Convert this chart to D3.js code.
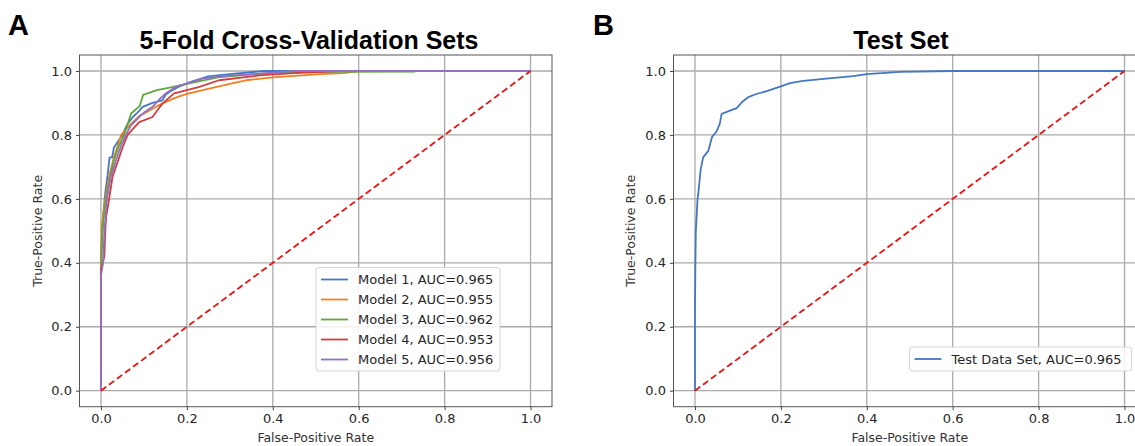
<!DOCTYPE html>
<html>
<head>
<meta charset="utf-8">
<script src="https://cdn.jsdelivr.net/npm/d3@7"></script>
<style>
  body { margin: 0; background: #fff; }
  svg { display: block; }
  .tick text { font-family: "DejaVu Sans", sans-serif; font-size: 13px; fill: #262626; }
  .tick line { stroke: #444; }
  .domain { display: none; }
</style>
</head>
<body>
<svg id="chart" width="1135" height="446"></svg>
<script>
const tickValues = [0, 0.2, 0.4, 0.6, 0.8, 1.0];

const cvModels = ["Model 1", "Model 2", "Model 3", "Model 4", "Model 5"];
const cvAuc = [0.965, 0.955, 0.962, 0.953, 0.956];
const cvColors = ["#4477c4", "#f07f1e", "#5fa83a", "#d43d3d", "#9370c8"];

const model1Roc = [[0,0],[0,0.40],[0.003,0.48],[0.006,0.56],[0.01,0.62],[0.016,0.68],[0.02,0.73],[0.026,0.73],[0.03,0.76],[0.04,0.78],[0.05,0.80],[0.06,0.83],[0.074,0.856],[0.085,0.87],[0.097,0.888],[0.12,0.90],[0.143,0.908],[0.15,0.925],[0.159,0.934],[0.18,0.95],[0.209,0.966],[0.25,0.983],[0.3,0.99],[0.38,1.0],[1,1]];
const model2Roc = [[0,0],[0,0.42],[0.002,0.52],[0.006,0.56],[0.01,0.6],[0.019,0.67],[0.03,0.73],[0.04,0.77],[0.047,0.80],[0.06,0.82],[0.074,0.84],[0.09,0.86],[0.105,0.87],[0.13,0.89],[0.159,0.908],[0.18,0.92],[0.205,0.93],[0.252,0.945],[0.3,0.96],[0.337,0.971],[0.4,0.98],[0.51,0.99],[0.565,0.993],[0.6,1.0],[1,1]];
const model3Roc = [[0,0],[0,0.37],[0.003,0.5],[0.008,0.56],[0.012,0.6],[0.02,0.66],[0.03,0.72],[0.04,0.76],[0.054,0.80],[0.07,0.867],[0.09,0.89],[0.098,0.925],[0.13,0.94],[0.16,0.948],[0.2,0.96],[0.275,0.981],[0.4,0.994],[0.5,0.997],[0.73,0.998],[0.73,1.0],[1,1]];
const model4Roc = [[0,0],[0,0.38],[0.008,0.42],[0.01,0.5],[0.012,0.544],[0.019,0.6],[0.027,0.67],[0.04,0.72],[0.05,0.76],[0.062,0.80],[0.075,0.82],[0.089,0.84],[0.12,0.856],[0.13,0.875],[0.143,0.898],[0.17,0.93],[0.2,0.94],[0.229,0.95],[0.275,0.971],[0.368,0.986],[0.45,0.993],[0.557,1.0],[1,1]];
const model5Roc = [[0,0],[0,0.36],[0.005,0.4],[0.008,0.5],[0.014,0.6],[0.023,0.67],[0.035,0.72],[0.045,0.76],[0.058,0.80],[0.07,0.83],[0.089,0.856],[0.1,0.87],[0.12,0.888],[0.135,0.91],[0.151,0.93],[0.174,0.95],[0.236,0.976],[0.306,0.986],[0.4,0.995],[0.45,1.0],[1,1]];

const testLabel = "Test Data Set";
const testAuc = 0.965;
const testColor = "#4477c4";
const testRoc = [[0,0],[0,0.25],[0.001,0.4],[0.002,0.5],[0.006,0.6],[0.008,0.62],[0.013,0.69],[0.019,0.73],[0.031,0.75],[0.035,0.77],[0.04,0.795],[0.05,0.81],[0.058,0.836],[0.062,0.866],[0.074,0.872],[0.097,0.884],[0.109,0.902],[0.124,0.918],[0.143,0.928],[0.167,0.937],[0.2,0.952],[0.221,0.962],[0.252,0.969],[0.306,0.976],[0.368,0.984],[0.4,0.99],[0.477,0.997],[0.6,1.0],[1,1]];

const chanceLine = [[0,0],[1,1]];

const svg = d3.select("#chart");

function drawPanel(opts) {
  const { x0, x1, y0, y1, title, titleX, letter, letterX, series, legend, yLabelX } = opts;

  const x = d3.scaleLinear().domain([-0.05, 1.05]).range([x0, x1]);
  const y = d3.scaleLinear().domain([-0.05, 1.05]).range([y1, y0]);
  const g = svg.append("g");

  const clipId = "clip-" + letter;
  g.append("clipPath").attr("id", clipId)
    .append("rect").attr("x", x0).attr("y", y0).attr("width", x1 - x0).attr("height", y1 - y0);

  // grid
  g.append("g").selectAll("line.vg").data(tickValues).join("line")
    .attr("x1", d => x(d)).attr("x2", d => x(d)).attr("y1", y0).attr("y2", y1)
    .attr("stroke", "#aaa").attr("stroke-width", 1.3);
  g.append("g").selectAll("line.hg").data(tickValues).join("line")
    .attr("x1", x0).attr("x2", x1).attr("y1", d => y(d)).attr("y2", d => y(d))
    .attr("stroke", "#aaa").attr("stroke-width", 1.3);

  const line = d3.line().x(d => x(d[0])).y(d => y(d[1]));
  const plot = g.append("g").attr("clip-path", `url(#${clipId})`);

  plot.selectAll("path.roc").data(series).join("path")
    .attr("class", "roc")
    .attr("d", d => line(d.values))
    .attr("fill", "none")
    .attr("stroke", d => d.color)
    .attr("stroke-width", 1.8)
    .attr("stroke-linejoin", "round");

  plot.append("path")
    .attr("d", line(chanceLine))
    .attr("fill", "none")
    .attr("stroke", "#ee1111")
    .attr("stroke-width", 1.8)
    .attr("stroke-dasharray", "6.5,3.5");

  // frame
  g.append("rect")
    .attr("x", x0).attr("y", y0).attr("width", x1 - x0).attr("height", y1 - y0)
    .attr("fill", "none").attr("stroke", "#555").attr("stroke-width", 1);

  const fmt = d3.format(".1f");
  g.append("g").attr("transform", `translate(0,${y1})`)
    .call(d3.axisBottom(x).tickValues(tickValues).tickFormat(fmt).tickSize(3.5).tickPadding(4));
  g.append("g").attr("transform", `translate(${x0},0)`)
    .call(d3.axisLeft(y).tickValues(tickValues).tickFormat(fmt).tickSize(3.5).tickPadding(4));

  // labels
  g.append("text")
    .attr("x", (x0 + x1) / 2).attr("y", 442)
    .attr("text-anchor", "middle")
    .style("font-family", "DejaVu Sans, sans-serif").style("font-size", "12.5px").style("fill", "#333")
    .text("False-Positive Rate");
  g.append("text")
    .attr("transform", `translate(${yLabelX},${(y0 + y1) / 2}) rotate(-90)`)
    .attr("text-anchor", "middle")
    .style("font-family", "DejaVu Sans, sans-serif").style("font-size", "12.5px").style("fill", "#333")
    .text("True-Positive Rate");

  g.append("text")
    .attr("x", titleX).attr("y", 49)
    .attr("text-anchor", "middle")
    .style("font-family", "Liberation Sans, Arial, sans-serif").style("font-weight", "bold")
    .style("font-size", "25px").style("fill", "#000")
    .text(title);
  g.append("text")
    .attr("x", letterX).attr("y", 35)
    .style("font-family", "Liberation Sans, Arial, sans-serif").style("font-weight", "bold")
    .style("font-size", "29px").style("fill", "#000")
    .text(letter);

  // legend
  const lg = g.append("g");
  lg.append("rect")
    .attr("x", legend.x).attr("y", legend.y).attr("width", legend.w).attr("height", legend.h)
    .attr("rx", 3)
    .attr("fill", "#fff").attr("fill-opacity", 0.85)
    .attr("stroke", "#d6d6d6").attr("stroke-width", 1);
  const rowY = d3.scalePoint()
    .domain(series.map(d => d.label))
    .range([legend.y + 12, legend.y + 12 + 20 * (series.length - 1)]);
  const rows = lg.selectAll("g.row").data(series).join("g")
    .attr("transform", d => `translate(${legend.x},${rowY(d.label)})`);
  rows.append("line")
    .attr("x1", 5).attr("x2", 32)
    .attr("stroke", d => d.color).attr("stroke-width", 1.8);
  rows.append("text")
    .attr("x", 42).attr("dy", "0.36em")
    .style("font-family", "DejaVu Sans, sans-serif").style("font-size", "13px").style("fill", "#262626")
    .text(d => `${d.label}, AUC=${d.auc.toFixed(3)}`);
}

const cvRocs = [model1Roc, model2Roc, model3Roc, model4Roc, model5Roc];
const cvSeries = cvModels.map((m, i) => ({ label: m, auc: cvAuc[i], color: cvColors[i], values: cvRocs[i] }));

drawPanel({
  x0: 79.5, x1: 552, y0: 55, y1: 406.7,
  title: "5-Fold Cross-Validation Sets", titleX: 309,
  letter: "A", letterX: 8,
  yLabelX: 42,
  series: cvSeries,
  legend: { x: 316, y: 267.5, w: 184, h: 103.5 }
});

drawPanel({
  x0: 673.5, x1: 1146, y0: 55, y1: 406.7,
  title: "Test Set", titleX: 901,
  letter: "B", letterX: 593,
  yLabelX: 635,
  series: [{ label: testLabel, auc: testAuc, color: testColor, values: testRoc }],
  legend: { x: 909.5, y: 347, w: 222, h: 24 }
});
</script>
</body>
</html>
